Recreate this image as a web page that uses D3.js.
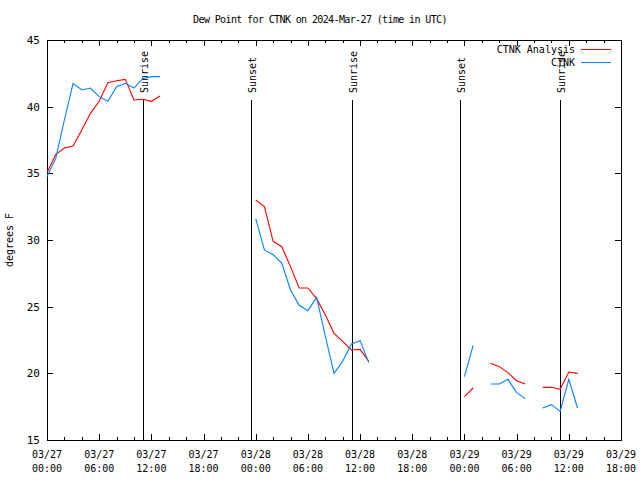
<!DOCTYPE html>
<html><head><meta charset="utf-8">
<script src="https://cdn.jsdelivr.net/npm/d3@7"></script>
<style>
body{margin:0;background:#fff;}
text{font-family:"DejaVu Sans Mono","Liberation Mono",monospace;fill:#000;}
</style></head>
<body><svg id="c" width="640" height="480"></svg>
<script>
const title = "Dew Point for CTNK on 2024-Mar-27 (time in UTC)";
const yLabel = "degrees F";
const startTime = "2024-03-27T00:00:00Z";
const seriesNames = ["CTNK Analysis", "CTNK"];
const seriesColors = ["#ff0000", "#0080ff"];
// hourly values, hour offset from start; null = missing
const analysisHours = [0,1,2,3,4,5,6,7,8,9,10,11,12,13,
  24,25,26,27,28,29,30,31,32,33,34,35,36,37,
  48,49,50,51,52,53,54,55,56,57,58,59,60,61];
const analysisValues = [35.05,36.4,36.9,37.05,38.25,39.5,40.4,41.8,41.95,42.05,40.5,40.55,40.4,40.8,
  33.0,32.5,29.9,29.5,28.0,26.4,26.4,25.6,24.4,23.0,22.4,21.75,21.8,20.9,
  18.25,18.9,null,20.75,20.5,20.05,19.45,19.2,null,18.95,18.95,18.8,20.1,20.0];
const obsValues = [34.75,36.1,39.0,41.75,41.25,41.4,40.75,40.4,41.5,41.75,41.4,42.1,42.25,42.25,
  31.6,29.25,28.9,28.25,26.25,25.1,24.7,25.7,22.8,20.0,20.9,22.2,22.45,20.8,
  19.75,22.1,null,19.2,19.2,19.55,18.55,18.1,null,17.4,17.65,17.15,19.55,17.4];
const sunEvents = [
  {label:"Sunrise", time:"2024-03-27T11:04:00Z"},
  {label:"Sunset",  time:"2024-03-27T23:29:00Z"},
  {label:"Sunrise", time:"2024-03-28T11:02:00Z"},
  {label:"Sunset",  time:"2024-03-28T23:30:00Z"},
  {label:"Sunrise", time:"2024-03-29T11:00:00Z"}
];
const yTicks = [15,20,25,30,35,40,45];

const svg = d3.select("#c");
const L=47, R=621, T=40, B=440;
const t0 = new Date(startTime);
const t1 = d3.utcHour.offset(t0, 66);
const x = d3.scaleUtc().domain([t0,t1]).range([L,R]);
const y = d3.scaleLinear().domain([15,45]).range([B,T]);

svg.append("text").attr("x",320).attr("y",23).attr("text-anchor","middle")
  .style("font-size","10px").style("letter-spacing","-0.62px").text(title);

const g = svg.append("g").attr("shape-rendering","crispEdges");
g.append("rect").attr("x",L+0.5).attr("y",T+0.5).attr("width",R-L).attr("height",B-T)
  .attr("fill","none").attr("stroke","#000");

const majors = d3.utcHour.every(6).range(t0, d3.utcHour.offset(t1,1));
const minors = d3.utcHour.every(2).range(t0, d3.utcHour.offset(t1,1)).filter(d=>d.getUTCHours()%6!==0);
majors.forEach(d=>{
  const xx=Math.round(x(d))+0.5;
  g.append("line").attr("x1",xx).attr("x2",xx).attr("y1",B).attr("y2",B-6).attr("stroke","#000");
  g.append("line").attr("x1",xx).attr("x2",xx).attr("y1",T).attr("y2",T+6).attr("stroke","#000");
});
minors.forEach(d=>{
  const xx=Math.round(x(d))+0.5;
  g.append("line").attr("x1",xx).attr("x2",xx).attr("y1",B).attr("y2",B-3).attr("stroke","#000");
  g.append("line").attr("x1",xx).attr("x2",xx).attr("y1",T).attr("y2",T+3).attr("stroke","#000");
});
const fmtD = d3.utcFormat("%m/%d"), fmtT = d3.utcFormat("%H:%M");
majors.filter(d=>d<=t1).forEach(d=>{
  const t = svg.append("text").attr("text-anchor","middle").style("font-size","10px");
  t.append("tspan").attr("x",x(d)).attr("y",458).text(fmtD(d));
  t.append("tspan").attr("x",x(d)).attr("y",472).text(fmtT(d));
});
yTicks.forEach(v=>{
  const yy=Math.round(y(v))+0.5;
  g.append("line").attr("x1",L).attr("x2",L+6).attr("y1",yy).attr("y2",yy).attr("stroke","#000");
  g.append("line").attr("x1",R).attr("x2",R-6).attr("y1",yy).attr("y2",yy).attr("stroke","#000");
  svg.append("text").attr("x",40).attr("y",y(v)+4).attr("text-anchor","end")
    .style("font-size","11px").text(v);
});
svg.append("text").attr("transform","translate(13,240) rotate(-90)").attr("text-anchor","middle")
  .style("font-size","10px").text(yLabel);

sunEvents.forEach(e=>{
  const xx=Math.round(x(new Date(e.time)))+0.5;
  g.append("line").attr("x1",xx).attr("x2",xx).attr("y1",B).attr("y2",100).attr("stroke","#000");
  svg.append("text").attr("transform",`translate(${xx+1},93) rotate(-90)`)
    .attr("text-anchor","start").attr("dominant-baseline","middle")
    .style("font-size","10px").text(e.label);
});

const rows = analysisHours.map((h,i)=>({t:d3.utcHour.offset(t0,h), a:analysisValues[i], o:obsValues[i]}));
const mk = key => d3.line().defined(d=>d[key]!=null).x(d=>x(d.t)).y(d=>y(d[key]));
const segBreak = [];
rows.forEach((r,i)=>{ if(i>0 && (r.t - rows[i-1].t) > 3600000*1.5) segBreak.push(i); });
function segments(){
  const segs=[]; let s=0;
  segBreak.concat([rows.length]).forEach(b=>{ segs.push(rows.slice(s,b)); s=b; });
  return segs;
}
[["a",0],["o",1]].forEach(([key,ci])=>{
  segments().forEach(seg=>{
    svg.append("path").attr("d",mk(key)(seg)).attr("fill","none")
      .attr("stroke",seriesColors[ci]).attr("stroke-width",1.1);
  });
});

seriesNames.forEach((n,i)=>{
  const yy = 49 + i*13;
  svg.append("text").attr("x",575).attr("y",yy+4).attr("text-anchor","end")
    .style("font-size","10px").text(n);
  g.append("line").attr("x1",581).attr("x2",611).attr("y1",yy+0.5).attr("y2",yy+0.5)
    .attr("stroke",seriesColors[i]);
});
</script></body></html>
